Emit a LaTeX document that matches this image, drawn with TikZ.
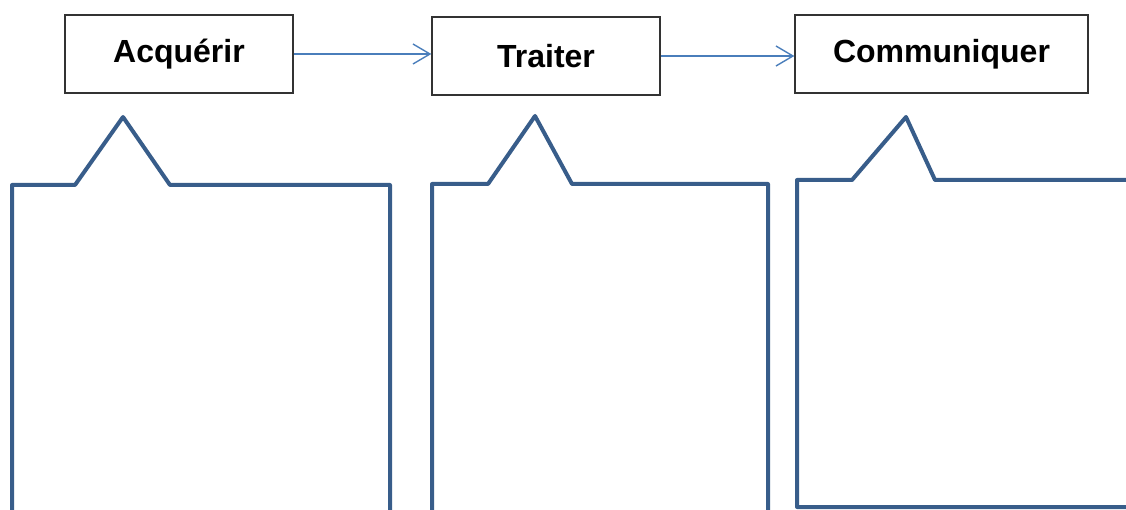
\documentclass[tikz,border=0pt]{standalone}
\usepackage{fontspec}
\setmainfont{Liberation Sans}
\usetikzlibrary{arrows.meta}
\definecolor{calloutblue}{HTML}{385D8A}
\definecolor{arrowblue}{HTML}{4A7EBB}
\definecolor{boxgray}{HTML}{333333}
\begin{document}
\begin{tikzpicture}[x=1pt,y=-1pt,
  stagebox/.style={draw=boxgray,line width=1.3pt,fill=white,inner sep=0pt,
    font=\fontsize{32}{36}\selectfont\bfseries},
  flowarrow/.style={draw=arrowblue,line width=1.4pt,
    -{Straight Barb[length=17pt,width=20pt,line width=1.4pt]}},
  callout/.style={draw=calloutblue,line width=4pt,line join=round}]
\useasboundingbox (0,0) rectangle (1126,510);
\node[stagebox,minimum width=228pt,minimum height=78pt] (acq) at (179,54) {\raisebox{-2pt}{Acquérir}};
\node[stagebox,minimum width=228pt,minimum height=78pt] (tra) at (546,56) {\raisebox{-2pt}{Traiter}};
\node[stagebox,minimum width=293pt,minimum height=78pt] (com) at (941.5,54) {\raisebox{-1pt}{Communiquer}};
\draw[flowarrow] (acq.east) -- (tra.west |- acq.east);
\draw[flowarrow] (tra.east) -- (com.west |- tra.east);
% callouts
\draw[callout] (12,520) -- (12,185) -- (75,185) -- (123,117) -- (170,185) -- (390,185) -- (390,520);
\draw[callout] (432,520) -- (432,184) -- (488,184) -- (535,116) -- (572,184) -- (768,184) -- (768,520);
\draw[callout] (1140,507) -- (797,507) -- (797,180) -- (852,180) -- (906,117) -- (935,180) -- (1140,180);
\end{tikzpicture}
\end{document}
